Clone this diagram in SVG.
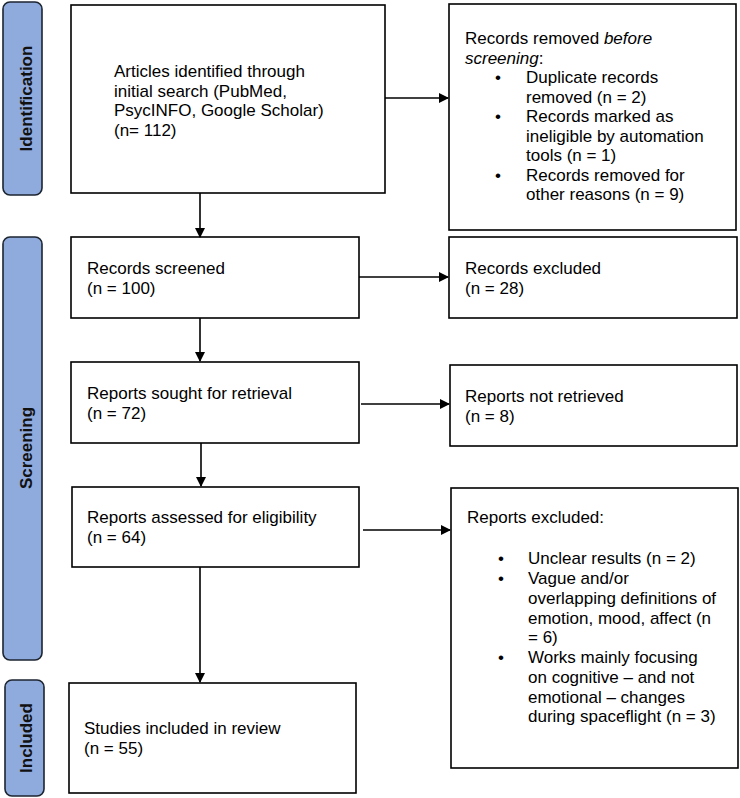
<svg xmlns="http://www.w3.org/2000/svg" width="740" height="798" viewBox="0 0 740 798">
<style>
.box{fill:#fff;stroke:#000;stroke-width:1.6}
.phase{fill:#8faadc;stroke:#1c2530;stroke-width:1.6}
.t{font-family:"Liberation Sans",Arial,sans-serif;font-size:17px;fill:#000}
.pl{font-family:"Liberation Sans",Arial,sans-serif;font-size:17px;font-weight:bold;fill:#111;text-anchor:middle}
.c{stroke:#000;stroke-width:1.6;fill:none}
</style>
<defs>
<marker id="ah" markerWidth="10" markerHeight="10" refX="9" refY="5" orient="auto" markerUnits="userSpaceOnUse">
<path d="M0,0 L10,5 L0,10 z" fill="#000"/>
</marker>
</defs>
<g id="phase-identification">
<rect class="phase" x="3" y="2" width="39" height="193" rx="7"/>
<text class="pl" transform="translate(31.5,98.5) rotate(-90)">Identification</text>
</g>
<g id="phase-screening">
<rect class="phase" x="3" y="237" width="39" height="423" rx="7"/>
<text class="pl" transform="translate(31.5,448) rotate(-90)">Screening</text>
</g>
<g id="phase-included">
<rect class="phase" x="5" y="680" width="39" height="116" rx="7"/>
<text class="pl" transform="translate(32,738) rotate(-90)">Included</text>
</g>
<g id="n-identified">
<rect class="box" x="71" y="5" width="314" height="188"/>
<text class="t" x="114" y="77">Articles identified through</text>
<text class="t" x="114" y="96.5">initial search (PubMed,</text>
<text class="t" x="114" y="116">PsycINFO, Google Scholar)</text>
<text class="t" x="114" y="135.5">(n= 112)</text>
</g>
<g id="n-removed">
<rect class="box" x="449" y="4" width="287" height="226"/>
<text class="t" x="465" y="44">Records removed <tspan font-style="italic">before</tspan></text>
<text class="t" x="465" y="63.5"><tspan font-style="italic">screening</tspan>:</text>
<text class="t" x="495" y="83">•</text><text class="t" x="526" y="83">Duplicate records</text>
<text class="t" x="526" y="102.5">removed  (n = 2)</text>
<text class="t" x="495" y="122">•</text><text class="t" x="526" y="122">Records marked as</text>
<text class="t" x="526" y="141.5">ineligible by automation</text>
<text class="t" x="526" y="161">tools (n = 1)</text>
<text class="t" x="495" y="180.5">•</text><text class="t" x="526" y="180.5">Records removed for</text>
<text class="t" x="526" y="200">other reasons (n = 9)</text>
</g>
<g id="n-screened">
<rect class="box" x="71" y="237" width="288" height="81"/>
<text class="t" x="87" y="274">Records screened</text>
<text class="t" x="87" y="293.5">(n = 100)</text>
</g>
<g id="n-excluded">
<rect class="box" x="449" y="237" width="288" height="81"/>
<text class="t" x="465" y="274">Records excluded</text>
<text class="t" x="465" y="293.5">(n = 28)</text>
</g>
<g id="n-sought">
<rect class="box" x="71" y="362" width="288" height="81"/>
<text class="t" x="87" y="399">Reports sought for retrieval</text>
<text class="t" x="87" y="418.5">(n = 72)</text>
</g>
<g id="n-notretrieved">
<rect class="box" x="450" y="365" width="287" height="81"/>
<text class="t" x="465" y="402">Reports not retrieved</text>
<text class="t" x="465" y="421.5">(n = 8)</text>
</g>
<g id="n-assessed">
<rect class="box" x="72" y="487" width="287" height="80"/>
<text class="t" x="87" y="523">Reports assessed for eligibility</text>
<text class="t" x="87" y="542.5">(n = 64)</text>
</g>
<g id="n-reportsexcluded">
<rect class="box" x="451" y="488" width="287" height="280"/>
<text class="t" x="467" y="523">Reports excluded:</text>
<text class="t" x="498" y="564">•</text><text class="t" x="528" y="564">Unclear results (n = 2)</text>
<text class="t" x="498" y="584">•</text><text class="t" x="528" y="584">Vague and/or</text>
<text class="t" x="528" y="604">overlapping definitions of</text>
<text class="t" x="528" y="624">emotion, mood, affect (n</text>
<text class="t" x="528" y="643">= 6)</text>
<text class="t" x="498" y="663">•</text><text class="t" x="528" y="663">Works mainly focusing</text>
<text class="t" x="528" y="683">on cognitive – and not</text>
<text class="t" x="528" y="702.5">emotional – changes</text>
<text class="t" x="528" y="722">during spaceflight (n = 3)</text>
</g>
<g id="n-included">
<rect class="box" x="69" y="683" width="287" height="110"/>
<text class="t" x="84" y="734">Studies included in review</text>
<text class="t" x="84" y="753.5">(n = 55)</text>
</g>
<g id="connectors">
<line class="c" x1="200" y1="193" x2="200" y2="237" marker-end="url(#ah)"/>
<line class="c" x1="385" y1="98" x2="448" y2="98" marker-end="url(#ah)"/>
<line class="c" x1="359" y1="277" x2="448" y2="277" marker-end="url(#ah)"/>
<line class="c" x1="200" y1="318" x2="200" y2="361" marker-end="url(#ah)"/>
<line class="c" x1="361" y1="404" x2="449" y2="404" marker-end="url(#ah)"/>
<line class="c" x1="201" y1="443" x2="201" y2="486" marker-end="url(#ah)"/>
<line class="c" x1="363" y1="530" x2="450" y2="530" marker-end="url(#ah)"/>
<line class="c" x1="200" y1="567" x2="200" y2="682" marker-end="url(#ah)"/>
</g>
</svg>
